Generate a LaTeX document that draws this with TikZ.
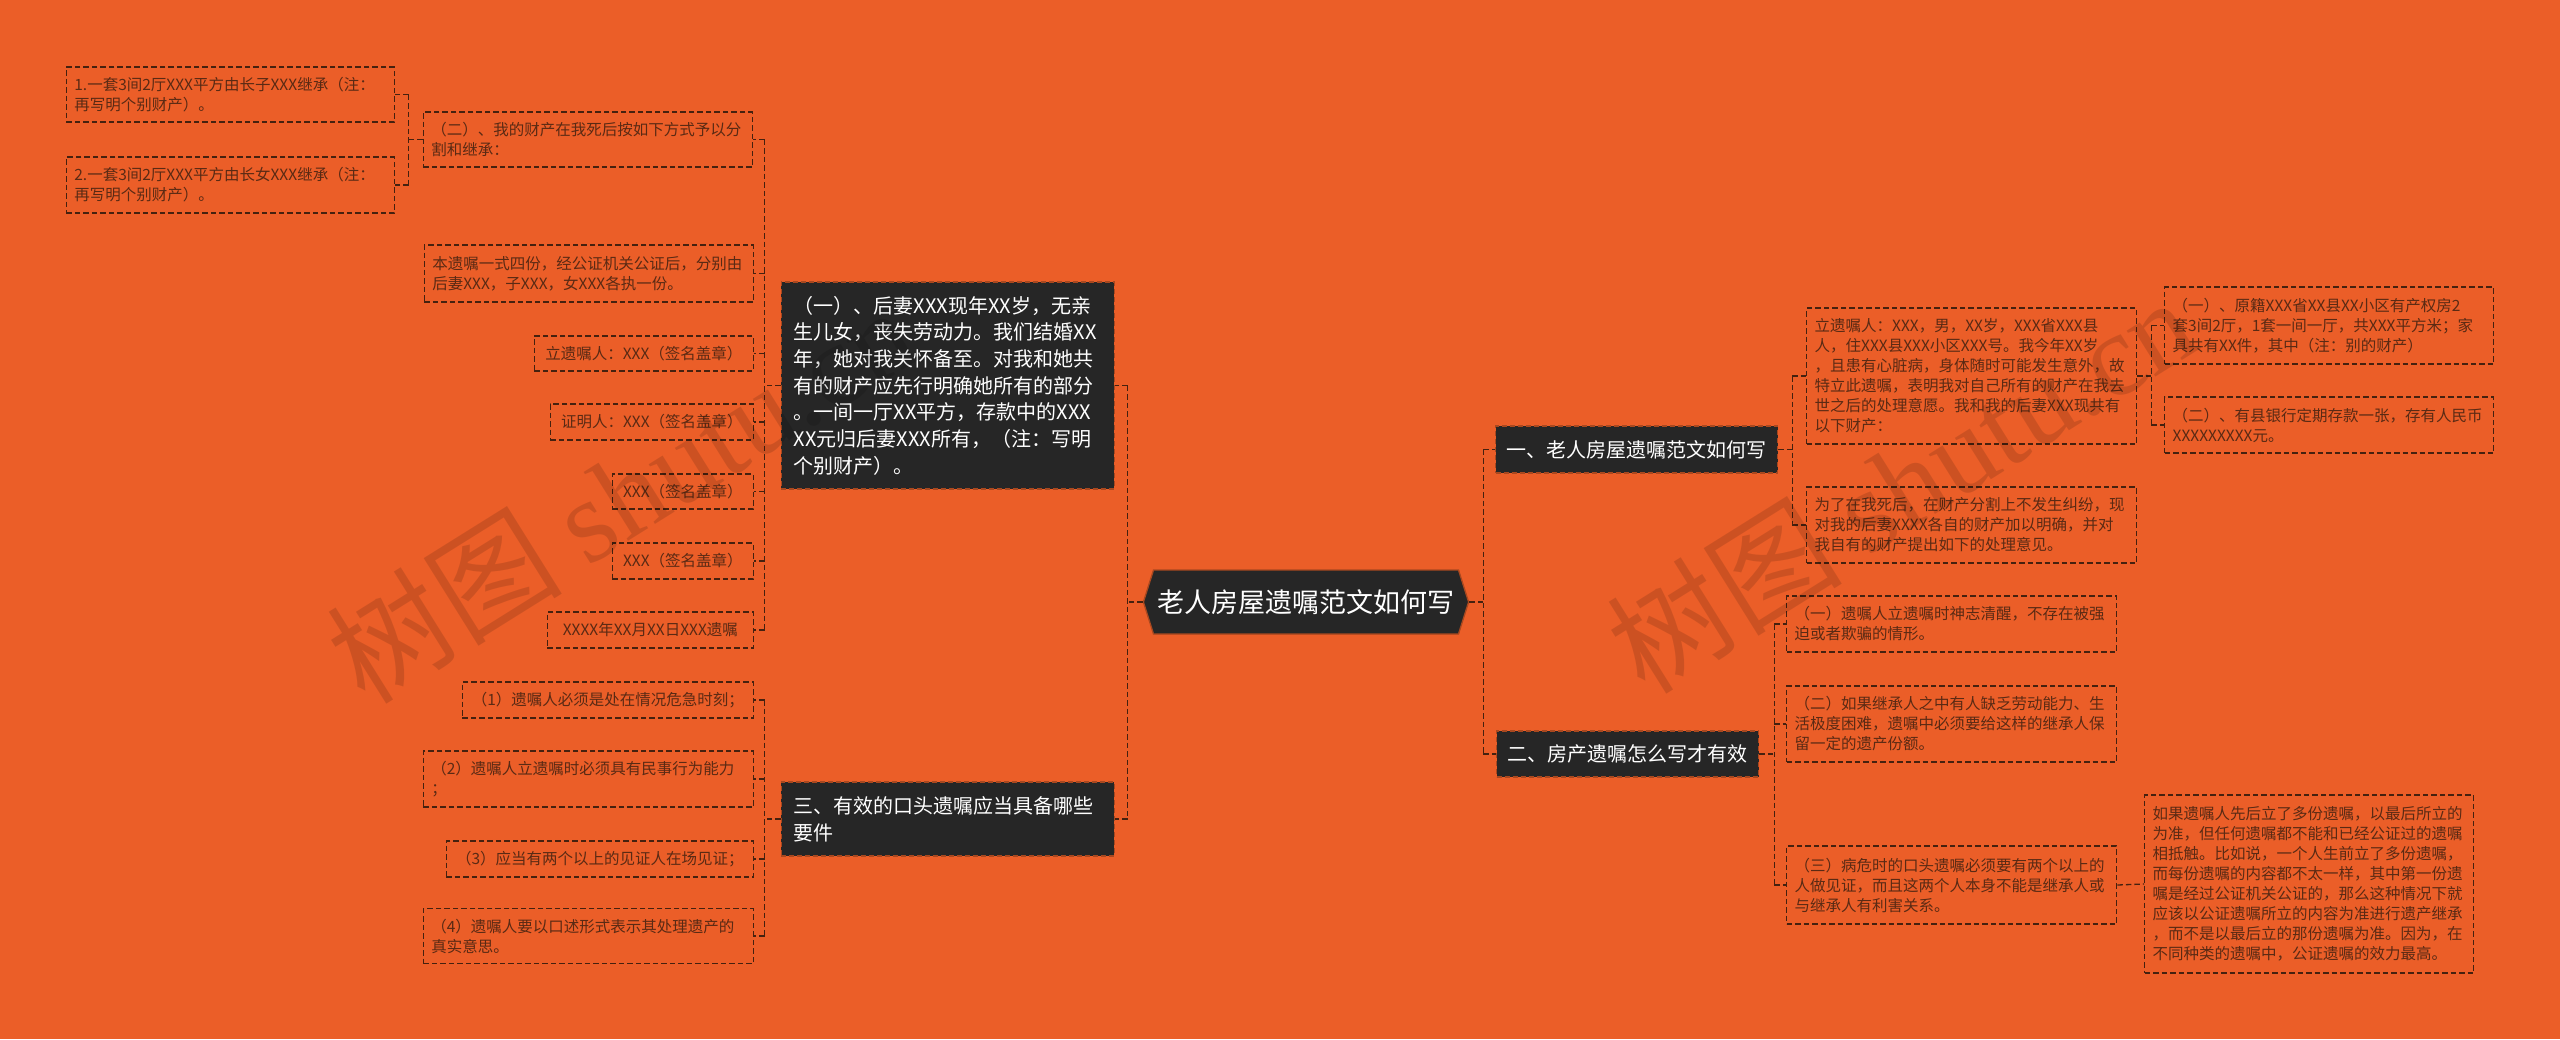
\documentclass[tikz,border=0pt]{standalone}
\usepackage{fontspec}
\newfontfamily\cjk{Noto Sans CJK SC}
\newfontfamily\wmserif{Liberation Serif}
\usetikzlibrary{positioning,shapes.symbols}
\definecolor{bgorange}{HTML}{EB5E28}
\definecolor{darkbox}{HTML}{262626}
\definecolor{boxedge}{HTML}{A9481F}
\definecolor{leaftext}{HTML}{5A2A14}
\definecolor{linebrown}{HTML}{45210F}

\begin{document}
\begin{tikzpicture}[x=1pt,y=-1pt,
  leaf/.style={draw=linebrown,dash pattern=on 5.5pt off 3pt,line width=1.3pt,text=leaftext,font=\cjk\fontsize{15.5}{20}\selectfont,align=left,inner xsep=8pt,inner ysep=3pt},
  topic/.style={draw=boxedge,dash pattern=on 5pt off 3pt,line width=1.3pt,fill=darkbox,text=white,font=\cjk\fontsize{20}{26.7}\selectfont,align=left,inner xsep=12.5pt,inner ysep=3pt},
  conn/.style={draw=linebrown,line width=1.3pt,dash pattern=on 5.5pt off 3pt},
  wmark/.style={text=black,text opacity=0.13,font=\cjk\fontsize{118}{118}\selectfont}]
% background and page
\fill[bgorange] (0,0) rectangle (2560,1039);
\useasboundingbox (0,0) rectangle (2560,1039);
% centre
\node[signal,signal to=east and west,signal pointer angle=145,fill=darkbox,draw=boxedge,line width=1.3pt,text=white,font=\cjk\fontsize{27}{32}\selectfont,minimum height=64pt,inner xsep=4pt] (C) at (1306,602) {老人房屋遗嘱范文如何写};
% left topics
\node[topic,text width=308pt,minimum height=207pt,anchor=east] (A) at (1115,385.5) {（一）、后妻XXX现年XX岁，无亲\\生儿女，丧失劳动力。我们结婚XX\\年，她对我关怀备至。对我和她共\\有的财产应先行明确她所有的部分\\。一间一厅XX平方，存款中的XXX\\XX元归后妻XXX所有，（注：写明\\个别财产）。};
\node[topic,text width=308pt,minimum height=74pt,anchor=east] (B) at (1115,819) {三、有效的口头遗嘱应当具备哪些\\要件};
% right topics
\node[topic,minimum height=47pt,inner xsep=11pt,anchor=west] (R1) at (1495,449.5) {一、老人房屋遗嘱范文如何写};
\node[topic,minimum height=46pt,inner xsep=11pt,anchor=west] (R2) at (1496,754) {二、房产遗嘱怎么写才有效};
% leaves of (A)
\node[leaf,text width=313pt,minimum height=55pt,anchor=east] (L2) at (753,139.5) {（二）、我的财产在我死后按如下方式予以分\\割和继承：};
\node[leaf,text width=312pt,minimum height=55pt,anchor=east] (L2a) at (395,94.5) {1.一套3间2厅XXX平方由长子XXX继承（注：\\再写明个别财产）。};
\node[leaf,text width=312pt,minimum height=56pt,anchor=east] (L2b) at (395,185) {2.一套3间2厅XXX平方由长女XXX继承（注：\\再写明个别财产）。};
\node[leaf,text width=313pt,minimum height=57pt,anchor=east] (L3) at (754,273.5) {本遗嘱一式四份，经公证机关公证后，分别由\\后妻XXX，子XXX，女XXX各执一份。};
\node[leaf,text width=203pt,align=center,minimum height=35pt,anchor=east] (L4) at (754,353.5) {立遗嘱人：XXX（签名盖章）};
\node[leaf,text width=187pt,align=center,minimum height=36pt,anchor=east] (L5) at (754,422) {证明人：XXX（签名盖章）};
\node[leaf,text width=125pt,align=center,minimum height=35pt,anchor=east] (L6) at (754,491.5) {XXX（签名盖章）};
\node[leaf,text width=125pt,align=center,minimum height=36pt,anchor=east] (L7) at (754,561) {XXX（签名盖章）};
\node[leaf,text width=190pt,align=center,minimum height=36pt,anchor=east] (L8) at (754,630) {XXXX年XX月XX日XXX遗嘱};
% leaves of (B)
\node[leaf,text width=275pt,align=center,minimum height=36pt,anchor=east] (M1) at (754,700) {（1）遗嘱人必须是处在情况危急时刻；};
\node[leaf,text width=314pt,minimum height=56pt,anchor=east] (M2) at (754,779) {（2）遗嘱人立遗嘱时必须具有民事行为能力\\；};
\node[leaf,text width=291pt,align=center,minimum height=36pt,anchor=east] (M3) at (754,859) {（3）应当有两个以上的见证人在场见证；};
\node[leaf,text width=314pt,minimum height=55pt,anchor=east] (M4) at (754,936) {（4）遗嘱人要以口述形式表示其处理遗产的\\真实意思。};
% leaves of (R1)
\node[leaf,text width=314pt,minimum height=136pt,anchor=west] (R1a) at (1806,376) {立遗嘱人：XXX，男，XX岁，XXX省XXX县\\人，住XXX县XXX小区XXX号。我今年XX岁\\，且患有心脏病，身体随时可能发生意外，故\\特立此遗嘱，表明我对自己所有的财产在我去\\世之后的处理意愿。我和我的后妻XXX现共有\\以下财产：};
\node[leaf,text width=314pt,minimum height=76pt,anchor=west] (R1b) at (1806,525) {为了在我死后，在财产分割上不发生纠纷，现\\对我的后妻XXXX各自的财产加以明确，并对\\我自有的财产提出如下的处理意见。};
\node[leaf,text width=313pt,minimum height=77pt,anchor=west] (R1a1) at (2164,325.5) {（一）、原籍XXX省XX县XX小区有产权房2\\套3间2厅，1套一间一厅，共XXX平方米；家\\具共有XX件，其中（注：别的财产）};
\node[leaf,text width=313pt,minimum height=56pt,anchor=west] (R1a2) at (2164,425) {（二）、有县银行定期存款一张，存有人民币\\XXXXXXXXX元。};
% leaves of (R2)
\node[leaf,text width=314pt,minimum height=56pt,anchor=west] (R2a) at (1786,624) {（一）遗嘱人立遗嘱时神志清醒，不存在被强\\迫或者欺骗的情形。};
\node[leaf,text width=314pt,minimum height=76pt,anchor=west] (R2b) at (1786,724) {（二）如果继承人之中有人缺乏劳动能力、生\\活极度困难，遗嘱中必须要给这样的继承人保\\留一定的遗产份额。};
\node[leaf,text width=314pt,minimum height=78pt,anchor=west] (R2c) at (1786,885) {（三）病危时的口头遗嘱必须要有两个以上的\\人做见证，而且这两个人本身不能是继承人或\\与继承人有利害关系。};
\node[leaf,text width=313pt,minimum height=178pt,anchor=west] (R2c1) at (2144,884) {如果遗嘱人先后立了多份遗嘱，以最后所立的\\为准，但任何遗嘱都不能和已经公证过的遗嘱\\相抵触。比如说，一个人生前立了多份遗嘱，\\而每份遗嘱的内容都不太一样，其中第一份遗\\嘱是经过公证机关公证的，那么这种情况下就\\应该以公证遗嘱所立的内容为准进行遗产继承\\，而不是以最后立的那份遗嘱为准。因为，在\\不同种类的遗嘱中，公证遗嘱的效力最高。};
% connectors, left half
\draw[conn] (C.west) -- ++(-15,0) coordinate (cl);
\draw[conn] (cl |- A.east) -- (cl |- B.east);
\foreach \n in {A,B} \draw[conn] (cl |- \n.east) -- (\n.east);
\draw[conn] (A.west) -- ++(-16,0) coordinate (ta);
\draw[conn] (ta |- L2.east) -- (ta |- L8.east);
\foreach \n in {L2,L3,L4,L5,L6,L7,L8} \draw[conn] (ta |- \n.east) -- (\n.east);
\draw[conn] (L2.west) -- ++(-14,0) coordinate (tb);
\draw[conn] (tb |- L2a.east) -- (tb |- L2b.east);
\foreach \n in {L2a,L2b} \draw[conn] (tb |- \n.east) -- (\n.east);
\draw[conn] (B.west) -- ++(-16,0) coordinate (tc);
\draw[conn] (tc |- M1.east) -- (tc |- M4.east);
\foreach \n in {M1,M2,M3,M4} \draw[conn] (tc |- \n.east) -- (\n.east);
% connectors, right half
\draw[conn] (C.east) -- ++(14,0) coordinate (cr);
\draw[conn] (cr |- R1.west) -- (cr |- R2.west);
\foreach \n in {R1,R2} \draw[conn] (cr |- \n.west) -- (\n.west);
\draw[conn] (R1.east) -- ++(14,0) coordinate (td);
\draw[conn] (td |- R1a.west) -- (td |- R1b.west);
\foreach \n in {R1a,R1b} \draw[conn] (td |- \n.west) -- (\n.west);
\draw[conn] (R1a.east) -- ++(14,0) coordinate (te);
\draw[conn] (te |- R1a1.west) -- (te |- R1a2.west);
\foreach \n in {R1a1,R1a2} \draw[conn] (te |- \n.west) -- (\n.west);
\draw[conn] (R2.east) -- ++(15,0) coordinate (tf);
\draw[conn] (tf |- R2a.west) -- (tf |- R2c.west);
\foreach \n in {R2a,R2b,R2c} \draw[conn] (tf |- \n.west) -- (\n.west);
\draw[conn] (R2c.east) -- (R2c1.west);
% watermark
\node[wmark,anchor=base west,rotate=32] (wmL) at (362,708) {树图 {\wmserif shutu.cn}};
\node[wmark,anchor=base west,rotate=32] (wmR) at (1642,698) {树图 {\wmserif shutu.cn}};
\end{tikzpicture}
\end{document}
